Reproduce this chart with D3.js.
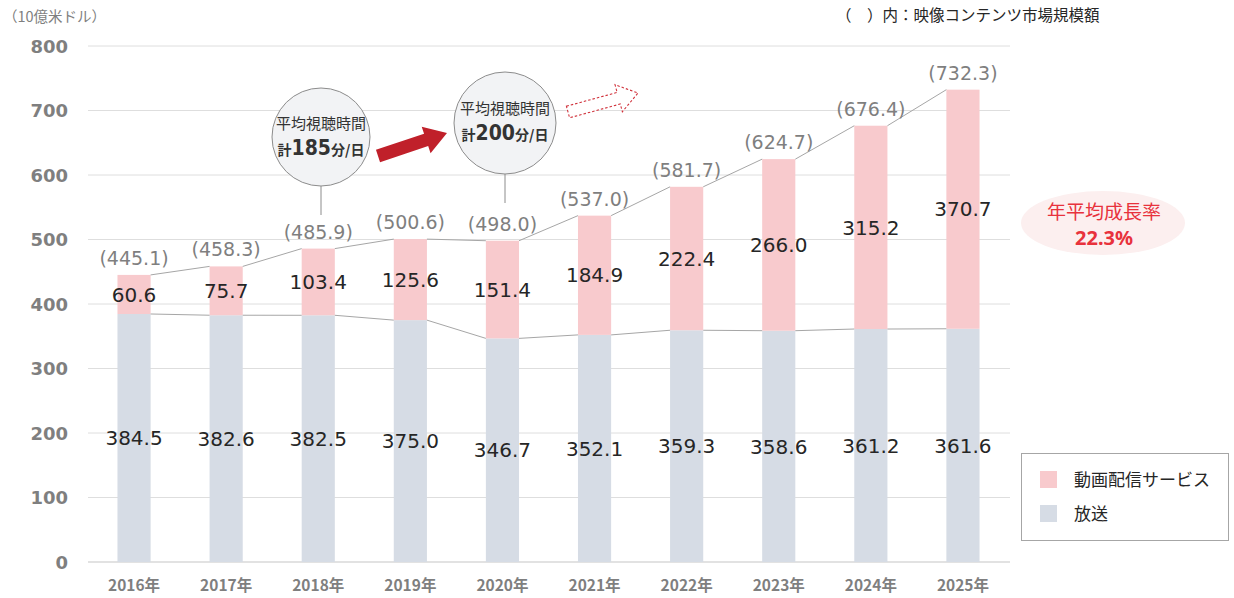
<!DOCTYPE html>
<html><head><meta charset="utf-8">
<script src="https://cdn.jsdelivr.net/npm/d3@7"></script>
<style>
html,body{margin:0;padding:0;background:#fff;}
svg{display:block;}
</style></head>
<body>
<svg id="chart" width="1234" height="598"></svg>
<script>
const years = ["2016年","2017年","2018年","2019年","2020年","2021年","2022年","2023年","2024年","2025年"];
const broadcast = [384.5, 382.6, 382.5, 375.0, 346.7, 352.1, 359.3, 358.6, 361.2, 361.6];
const streaming = [60.6, 75.7, 103.4, 125.6, 151.4, 184.9, 222.4, 266.0, 315.2, 370.7];
const totals = ["445.1","458.3","485.9","500.6","498.0","537.0","581.7","624.7","676.4","732.3"];
const yTicks = [0,100,200,300,400,500,600,700,800];
const seriesNames = ["動画配信サービス","放送"];

const svg = d3.select("#chart");
const jp = "'Noto Sans CJK JP','Noto Sans',sans-serif";
const num = "'DejaVu Sans',Verdana,sans-serif";
const colStream = "#f8cacd", colBroad = "#d6dce5";

const x = d3.scaleBand().domain(years).range([88, 1009]).paddingInner(0.64).paddingOuter(0.32);
const y = d3.scaleLinear().domain([0, 800]).range([562, 46]);
const bw = x.bandwidth();

// gridlines
svg.append("g").selectAll("line").data(yTicks).join("line")
  .attr("x1", 88).attr("x2", 1010)
  .attr("y1", d => y(d)).attr("y2", d => y(d))
  .attr("stroke", d => d === 0 ? "#d9d9d9" : "#dedede").attr("stroke-width", d => d === 0 ? 1.5 : 1);

// y axis labels
const yAxis = d3.axisLeft(y).tickValues(yTicks).tickSize(0).tickPadding(0);
const yg = svg.append("g").attr("transform", "translate(68,0)").call(yAxis);
yg.select(".domain").remove();
yg.selectAll("text").attr("font-family", num).attr("font-weight", "bold")
  .attr("font-size", 18).attr("fill", "#7f7f7f").attr("dy", "0.35em");

// x axis labels
const xAxis = d3.axisBottom(x).tickSize(0).tickPadding(0);
const xg = svg.append("g").attr("transform", "translate(0,579)").call(xAxis);
xg.select(".domain").remove();
xg.selectAll("text").attr("font-family", jp).attr("font-weight", "bold")
  .attr("font-size", 15.5).attr("fill", "#7f7f7f").attr("dy", "0.75em");

// bars
const data = years.map((yr, i) => ({yr, b: broadcast[i], s: streaming[i], t: totals[i]}));
svg.append("g").selectAll("rect").data(data).join("rect")
  .attr("x", d => x(d.yr)).attr("width", bw)
  .attr("y", d => y(d.b)).attr("height", d => y(0) - y(d.b))
  .attr("fill", colBroad);
svg.append("g").selectAll("rect").data(data).join("rect")
  .attr("x", d => x(d.yr)).attr("width", bw)
  .attr("y", d => y(d.b + d.s)).attr("height", d => y(d.b) - y(d.b + d.s))
  .attr("fill", colStream);

// series lines
const segs = [];
for (let i = 0; i < data.length - 1; i++) {
  segs.push({x1: x(data[i].yr) + bw, y1: y(data[i].b + data[i].s), x2: x(data[i+1].yr), y2: y(data[i+1].b + data[i+1].s)});
  segs.push({x1: x(data[i].yr) + bw, y1: y(data[i].b), x2: x(data[i+1].yr), y2: y(data[i+1].b)});
}
svg.append("g").selectAll("line").data(segs).join("line")
  .attr("x1", d => d.x1).attr("y1", d => d.y1).attr("x2", d => d.x2).attr("y2", d => d.y2)
  .attr("stroke", "#a6a6a6").attr("stroke-width", 1);

// segment labels
const lbl = svg.append("g").attr("font-family", num).attr("font-size", 20).attr("fill", "#262626").attr("text-anchor", "middle");
lbl.selectAll("text.b").data(data).join("text").attr("class", "b")
  .attr("x", d => x(d.yr) + bw / 2).attr("y", d => y(d.b / 2)).attr("dy", "0.36em")
  .text(d => d.b.toFixed(1));
lbl.selectAll("text.s").data(data).join("text").attr("class", "s")
  .attr("x", d => x(d.yr) + bw / 2).attr("y", d => y(d.b + d.s / 2)).attr("dy", "0.36em")
  .text(d => d.s.toFixed(1));
// totals
svg.append("g").attr("font-family", num).attr("font-size", 19).attr("fill", "#7f7f7f").attr("text-anchor", "middle")
  .selectAll("text").data(data).join("text")
  .attr("x", d => x(d.yr) + bw / 2).attr("y", d => y(d.b + d.s) - 10)
  .text(d => "(" + d.t + ")");

// top texts
svg.append("text").attr("x", 3).attr("y", 22).attr("font-family", jp).attr("font-size", 14.5).attr("fill", "#7f7f7f").text("（10億米ドル）");
svg.append("text").attr("x", 836).attr("y", 21).attr("font-family", jp).attr("font-size", 15.5).attr("fill", "#262626").text("（\u3000）内：映像コンテンツ市場規模額");

// circles
function bubble(cx, cy, r, lineEnd, totalMin, l1y, l2y) {
  const g = svg.append("g");
  g.append("line").attr("x1", cx).attr("x2", cx).attr("y1", cy + r).attr("y2", lineEnd).attr("stroke", "#8c8c8c").attr("stroke-width", 1);
  g.append("circle").attr("cx", cx).attr("cy", cy).attr("r", r).attr("fill", "#f2f3f5").attr("stroke", "#8c8c8c").attr("stroke-width", 1);
  g.append("text").attr("x", cx).attr("y", l1y).attr("text-anchor", "middle").attr("dy", "0.36em")
    .attr("font-family", jp).attr("font-size", 15).attr("fill", "#333").text("平均視聴時間");
  const t = g.append("text").attr("x", cx).attr("y", l2y).attr("text-anchor", "middle").attr("dy", "0.36em")
    .attr("font-family", jp).attr("font-weight", "bold").attr("fill", "#333");
  t.append("tspan").attr("font-size", 14).text("計");
  t.append("tspan").attr("font-size", 21).attr("font-family", "'DejaVu Sans Condensed','Liberation Sans Narrow',sans-serif").text(totalMin);
  t.append("tspan").attr("font-size", 14).text("分/日");
}
bubble(321, 137, 49, 215, "185", 124, 149);
bubble(505, 123, 51, 203, "200", 109, 134);

// arrows
function arrowPath(len, bh, hh, hl) {
  return `M0,${-bh} L${len - hl},${-bh} L${len - hl},${-hh} L${len},0 L${len - hl},${hh} L${len - hl},${bh} L0,${bh} Z`;
}
{
  const x0 = 378, y0 = 156, x1 = 447, y1 = 133;
  const ang = Math.atan2(y1 - y0, x1 - x0) * 180 / Math.PI, len = Math.hypot(x1 - x0, y1 - y0);
  svg.append("path").attr("d", arrowPath(len, 6.5, 14, 22))
    .attr("transform", `translate(${x0},${y0}) rotate(${ang})`).attr("fill", "#c0202a");
}
{
  const x0 = 568, y0 = 112, x1 = 638, y1 = 93;
  const ang = Math.atan2(y1 - y0, x1 - x0) * 180 / Math.PI, len = Math.hypot(x1 - x0, y1 - y0);
  svg.append("path").attr("d", arrowPath(len, 6, 14, 20))
    .attr("transform", `translate(${x0},${y0}) rotate(${ang})`).attr("fill", "#fff")
    .attr("stroke", "#d0303a").attr("stroke-width", 1.1).attr("stroke-dasharray", "2.5,2");
}

// CAGR ellipse
svg.append("ellipse").attr("cx", 1103).attr("cy", 223).attr("rx", 82).attr("ry", 32).attr("fill", "#fcefef");
svg.append("text").attr("x", 1104).attr("y", 212).attr("dy", "0.36em").attr("text-anchor", "middle")
  .attr("font-family", jp).attr("font-size", 19).attr("fill", "#e8323c").text("年平均成長率");
svg.append("text").attr("x", 1104).attr("y", 238).attr("dy", "0.36em").attr("text-anchor", "middle")
  .attr("font-family", "'Noto Sans',sans-serif").attr("font-weight", "bold").attr("font-size", 20).attr("fill", "#e8323c").text("22.3%");

// legend
const lg = svg.append("g");
lg.append("rect").attr("x", 1021.5).attr("y", 453.5).attr("width", 207).attr("height", 87).attr("fill", "#fff").attr("stroke", "#a6a6a6");
const legCols = [colStream, colBroad];
lg.selectAll("rect.sw").data(seriesNames).join("rect").attr("class", "sw")
  .attr("x", 1040).attr("y", (d, i) => 471 + i * 34).attr("width", 17).attr("height", 17)
  .attr("fill", (d, i) => legCols[i]);
lg.selectAll("text").data(seriesNames).join("text")
  .attr("x", 1074).attr("y", (d, i) => 480 + i * 34).attr("dy", "0.36em")
  .attr("font-family", jp).attr("font-size", 17).attr("fill", "#262626").text(d => d);
</script>
</body></html>
